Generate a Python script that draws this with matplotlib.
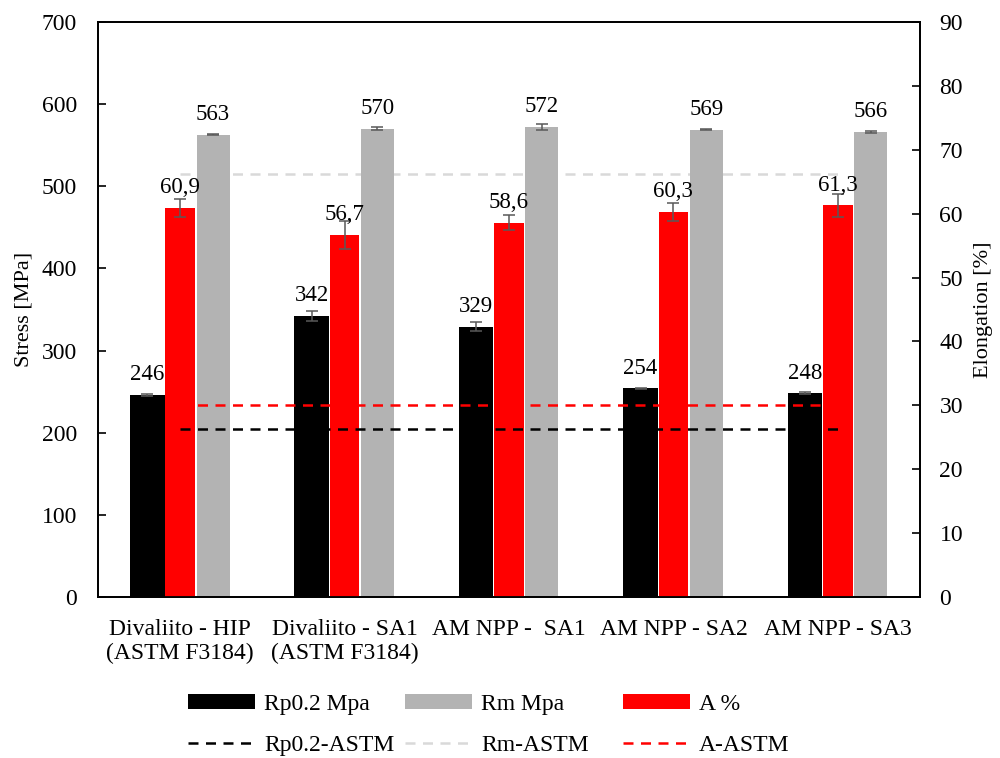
##tensile results, stress + elongation per material condition
import numpy as np
import matplotlib as mpl
mpl.use('Agg')
import matplotlib.pyplot as plt
from matplotlib.patches import Patch
from matplotlib.lines import Line2D

plt.rcParams['font.family'] = ['Liberation Serif', 'DejaVu Serif']

##data
conditions = ['Divaliito - HIP\n(ASTM F3184)', 'Divaliito - SA1\n(ASTM F3184)',
              'AM NPP -  SA1', 'AM NPP - SA2', 'AM NPP - SA3']
rp02 = [246, 342, 329, 254, 248]
rp02_err = [1.0, 6.0, 5.5, 1.0, 1.0]
rm = [563, 570, 572, 569, 566]
rm_err = [1.0, 2.0, 3.5, 1.0, 1.0]
elong = [60.9, 56.7, 58.6, 60.3, 61.3]
elong_err = [1.4, 2.2, 1.2, 1.4, 1.8]

##ASTM minimums
rp02_astm = 205
rm_astm = 515
elong_astm = 30

x = np.arange(len(conditions))
errkw = dict(ecolor='#595959', elinewidth=1.1, capsize=4.5, capthick=1.1)
dash = (0, (4, 3))

fig = plt.figure(figsize=(10, 7.58), dpi=100)
ax = fig.add_axes([0.098, 0.2124, 0.822, 0.7586])
ax2 = ax.twinx()

##stress bars, left axis
ax.plot([x[0], x[-1]], [rm_astm, rm_astm], ls=dash, color='#d9d9d9', lw=1.8, zorder=1)
ax.bar(x - 0.2, rp02, 0.21, color='black', yerr=rp02_err, error_kw=errkw, zorder=2)
ax.bar(x + 0.2, rm, 0.2, color='#b3b3b3', yerr=rm_err, error_kw=errkw, zorder=2)

##elongation bars, right axis
ax2.bar(x, elong, 0.18, color='#ff0000', yerr=elong_err, error_kw=errkw, zorder=2)
ax2.plot([x[0], x[-1]], [elong_astm, elong_astm], ls=dash, color='#ff0000', lw=1.8, zorder=3)
ax2.plot([x[0], x[-1]], [rp02_astm, rp02_astm], ls=dash, color='black', lw=1.8,
         zorder=3, transform=ax.transData)

##value labels
for xi, v in zip(x, rp02):
    ax.annotate(str(v), (xi - 0.2, v), xytext=(0, 7), textcoords='offset points',
                ha='center', va='bottom', fontsize=16.5)
for xi, v in zip(x, rm):
    ax.annotate(str(v), (xi + 0.2, v), xytext=(0, 7), textcoords='offset points',
                ha='center', va='bottom', fontsize=16.5)
for xi, v in zip(x, elong):
    ax2.annotate(f'{v:.1f}'.replace('.', ','), (xi, v), xytext=(0, 7), textcoords='offset points',
                 ha='center', va='bottom', fontsize=16.5)

##axes
ax.set_xlim(-0.5, len(conditions) - 0.5)
ax.set_ylim(0, 700)
ax.set_yticks(range(0, 701, 100))
ax2.set_ylim(0, 90)
ax2.set_yticks(range(0, 91, 10))
ax.set_xticks(x)
ax.set_xticklabels(conditions, fontsize=17, linespacing=1.15)
ax.tick_params(axis='x', length=0, pad=16)
ax.tick_params(axis='y', direction='in', length=6, width=1.2, labelsize=17, pad=15)
ax2.tick_params(axis='y', direction='in', length=6, width=1.2, labelsize=17, pad=14)
for sp in ax.spines.values():
    sp.set_linewidth(1.3)
for sp in ax2.spines.values():
    sp.set_linewidth(1.3)
ax.set_ylabel('Stress [MPa]', fontsize=16)
ax2.set_ylabel('Elongation [%]', fontsize=16)
ax.yaxis.set_label_coords(-0.079, 0.5)
ax2.yaxis.set_label_coords(1.066, 0.5)

##legend, one column per series, bars on top and ASTM lines below
legend_cols = [
    ([Patch(facecolor='black'), Line2D([], [], color='black', ls=dash, lw=1.8)],
     ['Rp0.2 Mpa', 'Rp0.2-ASTM'], 0.188),
    ([Patch(facecolor='#b3b3b3'), Line2D([], [], color='#d9d9d9', ls=dash, lw=1.8)],
     ['Rm Mpa', 'Rm-ASTM'], 0.405),
    ([Patch(facecolor='#ff0000'), Line2D([], [], color='#ff0000', ls=dash, lw=1.8)],
     ['A %', 'A-ASTM'], 0.623),
]
for handles, labels, xpos in legend_cols:
    fig.legend(handles, labels, loc='lower left', bbox_to_anchor=(xpos, 0.003),
               frameon=False, fontsize=17, handlelength=2.85, handleheight=0.62,
               handletextpad=0.38, labelspacing=0.85, borderpad=0, borderaxespad=0)

fig.savefig('out.png', dpi=100)
